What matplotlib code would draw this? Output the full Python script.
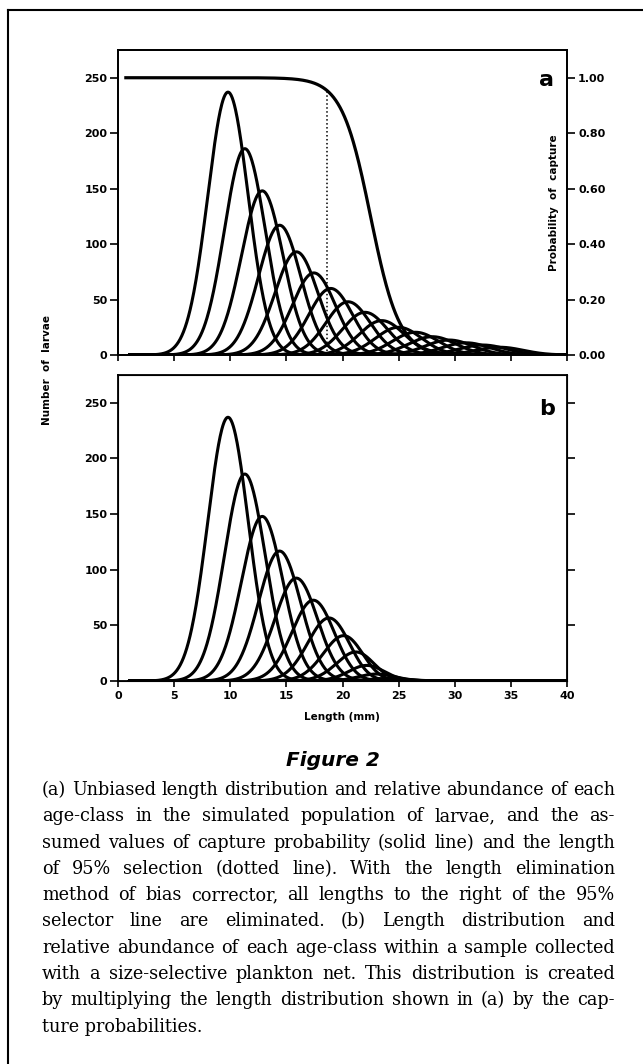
import numpy as np
import matplotlib
matplotlib.use("Agg")
import matplotlib.pyplot as plt
from matplotlib.lines import Line2D

# age classes: mean length (mm), peak number, spread (mm)
class_mean = [9.8, 11.3, 12.85, 14.4, 15.9, 17.45, 18.95, 20.5, 22.0,
              23.5, 25.0, 26.5, 28.0, 29.5, 31.0, 32.5, 34.0]
class_peak = [237, 186, 148, 117, 93, 74, 60, 48, 38.5,
              31, 25, 20.5, 16.5, 13.5, 11, 9, 7]
class_sd = [1.8, 1.82, 1.85, 1.88, 1.9, 1.92, 1.95, 1.97, 2.0,
            2.0, 2.05, 2.05, 2.1, 2.1, 2.1, 2.1, 2.1]

# capture probability (solid line) and 95% selection length (dotted line)
p50_length = 22.5
p_slope = 0.78
sel95_length = 18.6

x_ticks = [0, 5, 10, 15, 20, 25, 30, 35, 40]
y_ticks = [0, 50, 100, 150, 200, 250]
p_ticks = [0.0, 0.2, 0.4, 0.6, 0.8, 1.0]

caption = [
    "(a) Unbiased length distribution and relative abundance of each",
    "age-class in the simulated population of larvae, and the as-",
    "sumed values of capture probability (solid line) and the length",
    "of 95% selection (dotted line). With the length elimination",
    "method of bias corrector, all lengths to the right of the 95%",
    "selector line are eliminated. (b) Length distribution and",
    "relative abundance of each age-class within a sample collected",
    "with a size-selective plankton net. This distribution is created",
    "by multiplying the length distribution shown in (a) by the cap-",
    "ture probabilities.",
]

plt.rcParams['font.family'] = ['DejaVu Sans']
plt.rcParams['font.weight'] = 'bold'

W, H = 643, 1064
fig = plt.figure(figsize=(W / 100, H / 100), dpi=100)

def fx(px):
    return px / W

def fy(py):
    return 1 - py / H

x = np.linspace(1.0, 40, 800)
cap = 1 / (1 + np.exp(p_slope * (x - p50_length)))

def style(ax):
    ax.set_xlim(0, 40)
    ax.set_ylim(0, 275)
    for s in ax.spines.values():
        s.set_linewidth(1.3)
    ax.set_xticks(x_ticks)
    ax.set_yticks(y_ticks)
    ax.tick_params(axis='y', direction='out', length=6, width=1.2, pad=1.5, labelsize=8)
    ax.tick_params(axis='x', direction='out', length=4.5, width=1.2, pad=3, labelsize=8)

ax_a = fig.add_axes([fx(118), fy(355), fx(567) - fx(118), fy(50) - fy(355)])
ax_b = fig.add_axes([fx(118), fy(681), fx(567) - fx(118), fy(375) - fy(681)])

for m, h, s in zip(class_mean, class_peak, class_sd):
    dens = h * np.exp(-0.5 * ((x - m) / s) ** 2)
    ax_a.plot(x, dens, color='black', lw=2.2, solid_capstyle='round')
    ax_b.plot(x, dens * cap, color='black', lw=2.2, solid_capstyle='round')

style(ax_a)
style(ax_b)
ax_a.set_xticklabels([])

# right axis with capture probability
ax_p = ax_a.twinx()
ax_p.set_ylim(0, 1.1)
ax_p.set_yticks(p_ticks)
ax_p.set_yticklabels(['%.2f' % v for v in p_ticks])
ax_p.tick_params(axis='y', direction='out', length=6, width=1.2, pad=2, labelsize=8)
ax_p.plot(np.r_[0.7, x], np.r_[1.0, cap], color='black', lw=2.3)
sel_p = 1 / (1 + np.exp(p_slope * (sel95_length - p50_length)))
ax_p.plot([sel95_length, sel95_length], [0, sel_p], color='black', lw=1.1, ls=(0, (1, 1.6)))
ax_p.text(0.983, 0.5, 'Probability  of  capture', transform=ax_p.transAxes,
          rotation=90, ha='right', va='center', fontsize=7.5)
for s in ax_p.spines.values():
    s.set_linewidth(1.3)

ax_b2 = ax_b.twinx()
ax_b2.set_ylim(ax_b.get_ylim())
ax_b2.set_yticks(y_ticks[1:])
ax_b2.set_yticklabels([])
ax_b2.tick_params(axis='y', direction='out', length=6, width=1.2)

ax_a.text(0.955, 0.90, 'a', transform=ax_a.transAxes, fontsize=16, ha='center', va='center')
ax_b.text(0.955, 0.89, 'b', transform=ax_b.transAxes, fontsize=16, ha='center', va='center')

fig.text(fx(47), fy(370), 'Number  of  larvae', rotation=90, ha='center', va='center', fontsize=7.5)
fig.text(fx(342), fy(717), 'Length (mm)', ha='center', va='center', fontsize=7.5)

fig.text(fx(333), fy(760), 'Figure 2', ha='center', va='center', fontsize=14.5,
         fontweight='bold', style='italic')

# frame lines of the page box
fig.add_artist(Line2D([fx(8), 1], [fy(10), fy(10)], color='black', lw=1.5))
fig.add_artist(Line2D([fx(8), fx(8)], [0, fy(10)], color='black', lw=1.5))

# justified caption, font size fitted to the column width
renderer = fig.canvas.get_renderer()
left, right = fx(42), fx(615)
cap_kw = dict(family='DejaVu Serif', fontweight='normal', va='center')
probe = [fig.text(0, 0, ln, fontsize=12, **cap_kw) for ln in caption[:-1]]
widest = max(p.get_window_extent(renderer).width for p in probe) / fig.bbox.width
for p in probe:
    p.remove()
cap_kw['fontsize'] = 12 * (right - left) / widest * 0.995

for k, line in enumerate(caption):
    y = fy(790 + k * 26.3)
    words = line.split()
    if k == len(caption) - 1:
        fig.text(left, y, line, **cap_kw)
        continue
    arts = [fig.text(0, y, w, **cap_kw) for w in words]
    widths = [a.get_window_extent(renderer).width / fig.bbox.width for a in arts]
    gap = (right - left - sum(widths)) / (len(words) - 1)
    xpos = left
    for a, w in zip(arts, widths):
        a.set_x(xpos)
        xpos += w + gap

fig.savefig('out.png', dpi=100)
